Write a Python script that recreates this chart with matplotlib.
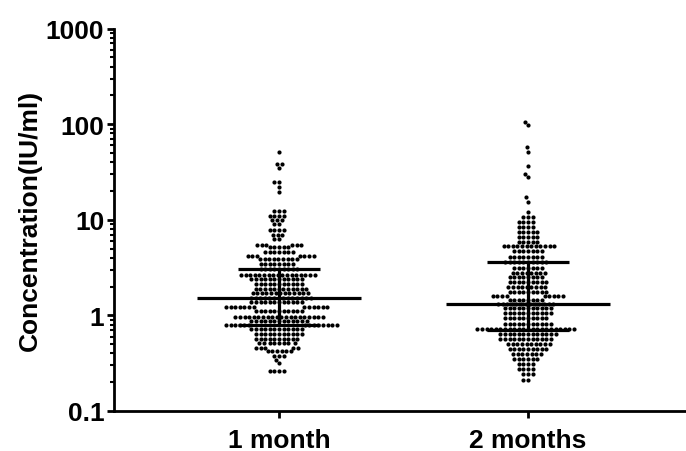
import matplotlib
matplotlib.use('Agg')
import matplotlib.pyplot as plt
from matplotlib.ticker import LogLocator, NullFormatter, FixedLocator
import numpy as np

# rows of dots: value (IU/ml) and how many dots sit in that row
g1_values = [50.8, 38.4, 34.6, 24.8, 21.9, 19.4, 12.4, 11.0, 9.95, 9.0, 7.9, 7.0, 6.3,
             5.5, 5.15, 4.57, 4.18, 3.85, 3.45, 3.06, 2.67, 2.40, 2.13, 1.89, 1.70,
             1.53, 1.37, 1.23, 1.12, 0.97, 0.88, 0.79, 0.72, 0.64, 0.57, 0.51, 0.46,
             0.42, 0.38, 0.34, 0.315, 0.26]
g1_counts = [1, 2, 1, 2, 1, 1, 3, 4, 3, 2, 4, 3, 2,
             6, 5, 7, 7, 9, 8, 9, 17, 12, 11, 12, 13,
             14, 12, 13, 11, 20, 13, 14, 12, 11, 10, 8, 5,
             6, 3, 1, 1, 4]

g2_values = [106, 98, 57.3, 51.5, 36.8, 30.1, 27.9, 17.2, 15.5, 12.0, 10.7, 9.5, 8.4,
             7.45, 6.6, 5.9, 5.28, 4.75, 4.08, 3.59, 3.11, 2.78, 2.50, 2.22, 1.97,
             1.77, 1.58, 1.45, 1.31, 1.19, 1.06, 0.93, 0.81, 0.72, 0.64, 0.57, 0.50,
             0.45, 0.39, 0.35, 0.31, 0.275, 0.244, 0.213]
g2_counts = [1, 1, 1, 1, 1, 1, 1, 1, 1, 1, 3, 4, 4,
             5, 5, 5, 12, 7, 8, 10, 7, 8, 8, 9, 9,
             9, 9, 8, 13, 11, 11, 10, 11, 22, 13, 12, 10,
             9, 7, 6, 4, 4, 3, 2]

groups = ['1 month', '2 months']
medians = [1.53, 1.33]
q1s = [0.80, 0.71]
q3s = [3.05, 3.6]

plt.rcParams['font.family'] = ['Liberation Sans', 'DejaVu Sans']
plt.rcParams['font.weight'] = 'bold'

fig = plt.figure(figsize=(6.86, 4.52), dpi=100)
ax = fig.add_axes([0.1662, 0.0885, 0.8338, 0.8462])
ax.set_yscale('log')
ax.set_ylim(0.1, 1000)
ax.set_xlim(-0.663, 1.635)


def swarm(ys_px, dist):
    # simple beeswarm: put each dot as close to the centre as it can go
    placed = []
    out = np.zeros(len(ys_px))
    for k, y in enumerate(ys_px):
        near = [(px_, py_) for px_, py_ in placed if abs(py_ - y) < dist]
        cands = [0.0]
        for px_, py_ in near:
            dx = np.sqrt(dist ** 2 - (py_ - y) ** 2)
            cands += [px_ - dx, px_ + dx]
        cands.sort(key=abs)
        for c in cands:
            if all((c - px_) ** 2 + (y - py_) ** 2 >= dist ** 2 - 1e-6 for px_, py_ in near):
                out[k] = c
                break
        placed.append((out[k], y))
    return out


for i, (vals, cnts) in enumerate([(g1_values, g1_counts), (g2_values, g2_counts)]):
    ys = np.repeat(vals, cnts)
    pts = ax.transData.transform(np.column_stack([np.full(len(ys), i), ys]))
    order = np.argsort(pts[:, 1])
    offs = np.zeros(len(ys))
    offs[order] = swarm(pts[order, 1], 4.6)
    xs = ax.transData.inverted().transform(np.column_stack([pts[:, 0] + offs, pts[:, 1]]))[:, 0]
    ax.scatter(xs, ys, s=9, color='black', linewidths=0, zorder=2)

    ax.hlines(medians[i], i - 0.33, i + 0.33, color='black', linewidth=2.3, zorder=3)
    ax.hlines([q1s[i], q3s[i]], i - 0.165, i + 0.165, color='black', linewidth=2.3, zorder=3)
    ax.vlines(i, q1s[i], q3s[i], color='black', linewidth=2.3, zorder=3)

ax.spines['top'].set_visible(False)
ax.spines['right'].set_visible(False)
ax.spines['left'].set_linewidth(2)
ax.spines['bottom'].set_linewidth(2)

ax.yaxis.set_major_locator(FixedLocator([0.1, 1, 10, 100, 1000]))
ax.set_yticklabels(['0.1', '1', '10', '100', '1000'])
ax.yaxis.set_minor_locator(LogLocator(base=10, subs=np.arange(2, 10)))
ax.yaxis.set_minor_formatter(NullFormatter())
ax.tick_params(axis='y', which='major', length=5, width=2, labelsize=19, pad=2)
ax.tick_params(axis='y', which='minor', length=3, width=1.5)

ax.set_xticks([0, 1])
ax.set_xticklabels(groups)
ax.tick_params(axis='x', length=5, width=2, labelsize=19, pad=7)

ax.set_ylabel('Concentration(IU/ml)', fontsize=19, fontweight='bold', labelpad=3)

fig.savefig('out.png', dpi=100)
